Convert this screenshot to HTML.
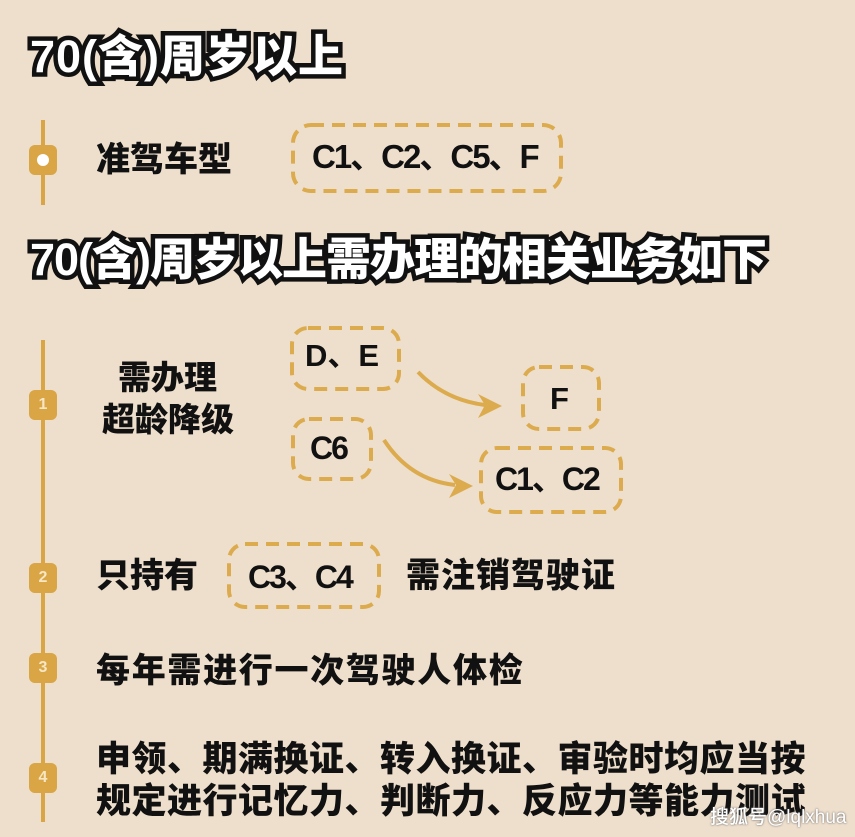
<!DOCTYPE html>
<html><head><meta charset="utf-8"><style>
body{margin:0;width:855px;height:837px;background:#eedfcd;overflow:hidden;position:relative;font-family:"Liberation Sans","Noto Sans CJK SC",sans-serif}
.t{position:absolute;white-space:nowrap;font-weight:900;color:#111;line-height:1}
.title{font-size:45px;color:#fff;-webkit-text-stroke:9px #111;paint-order:stroke fill;letter-spacing:1px}
.m{position:absolute;left:29px;width:28px;height:30px;background:#d9a545;border-radius:6px;color:#f6e6c4;font:bold 16px "Liberation Sans",sans-serif;text-align:center;line-height:30px}
.c{font-weight:bold}
</style></head><body>
<svg width="855" height="837" style="position:absolute;left:0;top:0">
<g stroke="#d9a545" stroke-width="4" fill="none">
<line x1="43" y1="120" x2="43" y2="205"/>
<line x1="43" y1="340" x2="43" y2="822"/>
</g>
<g stroke="#dcab4e" stroke-width="4" fill="none" stroke-dasharray="13 8">
<rect x="293" y="125" width="268" height="66" rx="18"/>
<rect x="292" y="328" width="107" height="61" rx="16"/>
<rect x="523" y="367" width="76" height="62" rx="16"/>
<rect x="293" y="419" width="78" height="60" rx="16"/>
<rect x="481" y="448" width="140" height="64" rx="16"/>
<rect x="229" y="544" width="150" height="63" rx="16"/>
</g>
<g stroke="#dcab4e" stroke-width="4" fill="none">
<path d="M418 372 Q445 400 485 405"/>
<path d="M384 440 Q410 480 455 485"/>
</g>
<g fill="#dcab4e">
<path d="M502 406 L478 394 L485 405 L478 418 Z"/>
<path d="M473 486 L449 474 L456 485 L449 498 Z"/>
</g>
</svg>
<div class="m" style="top:145px"><div style="position:absolute;left:8px;top:9px;width:12px;height:12px;border-radius:50%;background:#fff"></div></div>
<div class="m" style="top:390px">1</div>
<div class="m" style="top:563px">2</div>
<div class="m" style="top:653px">3</div>
<div class="m" style="top:763px">4</div>

<div class="t title" style="left:30px;top:34px">70(含)周岁以上</div>
<div class="t title" style="left:30px;top:237px;letter-spacing:-1px">70(含)周岁以上需办理的相关业务如下</div>

<div class="t" style="left:96px;top:143px;font-size:34px">准驾车型</div>
<div class="t c" style="left:312px;top:140px;font-size:33px;letter-spacing:-2px">C1、C2、C5、F</div>

<div class="t" style="left:118px;top:361px;font-size:33px">需办理</div>
<div class="t" style="left:102px;top:403px;font-size:33px">超龄降级</div>
<div class="t c" style="left:305px;top:340px;font-size:31px">D、E</div>
<div class="t c" style="left:550px;top:383px;font-size:31px">F</div>
<div class="t c" style="left:310px;top:432px;font-size:32px;letter-spacing:-2px">C6</div>
<div class="t c" style="left:495px;top:463px;font-size:32px;letter-spacing:-2px">C1、C2</div>

<div class="t" style="left:96px;top:559px;font-size:34px">只持有</div>
<div class="t c" style="left:248px;top:561px;font-size:32px;letter-spacing:-2px">C3、C4</div>
<div class="t" style="left:406px;top:559px;font-size:34px;letter-spacing:1px">需注销驾驶证</div>

<div class="t" style="left:96px;top:654px;font-size:34px;letter-spacing:1.7px">每年需进行一次驾驶人体检</div>
<div class="t" style="left:96px;top:742px;font-size:35px;letter-spacing:0.5px">申领、期满换证、转入换证、审验时均应当按</div>
<div class="t" style="left:96px;top:784px;font-size:35px;letter-spacing:0.5px">规定进行记忆力、判断力、反应力等能力测试</div>
<div class="t" style="left:710px;top:808px;font-size:19px;font-weight:500;color:#fff;text-shadow:0 0 2px #555">搜狐号@lqlxhua</div>
</body></html>
